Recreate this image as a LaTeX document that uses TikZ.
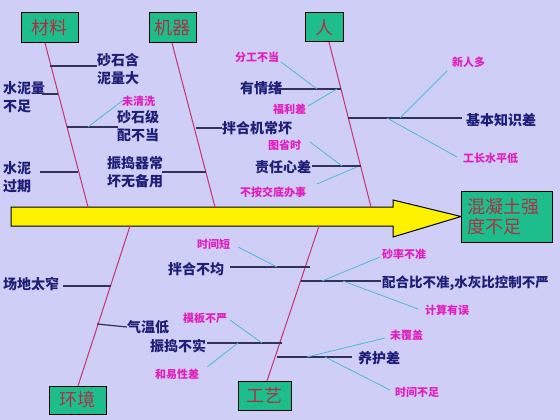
\documentclass[tikz,border=0pt]{standalone}
\usepackage{fontspec}
\newfontfamily\cjk{Noto Sans CJK SC}
\definecolor{bg}{RGB}{206,206,246}
\definecolor{boxgreen}{RGB}{30,190,140}
\definecolor{boxred}{RGB}{170,50,70}
\definecolor{navy}{RGB}{30,30,120}
\definecolor{mag}{RGB}{225,30,190}
\definecolor{spinecol}{RGB}{200,50,110}
\definecolor{bonecol}{RGB}{50,50,90}
\definecolor{twigcol}{RGB}{80,185,215}
\tikzset{
  cat/.style={draw=black, line width=1pt, fill=boxgreen, text=boxred, inner sep=0pt,
    font=\cjk\fontsize{18}{20}\selectfont},
  lbl/.style={text=navy, inner sep=0pt, anchor=west, align=left,
    font=\cjk\bfseries\fontsize{14}{18}\selectfont},
  sub/.style={text=mag, inner sep=0pt, anchor=west,
    font=\cjk\bfseries\fontsize{11}{12}\selectfont},
  spine/.style={draw=spinecol, line width=1pt},
  bone/.style={draw=bonecol, line width=1.2pt},
  twig/.style={draw=twigcol, line width=0.8pt}
}
\begin{document}
\begin{tikzpicture}[x=1pt,y=-1pt]
\useasboundingbox[fill=bg] (0,0) rectangle (560,420);
% category boxes
\node[cat, minimum width=57pt, minimum height=30pt] (mat) at (49.5,28) {材料};
\node[cat, minimum width=47pt, minimum height=30pt] (mach) at (172.5,28) {机器};
\node[cat, minimum width=38pt, minimum height=29pt] (man) at (324,27.5) {人};
\node[cat, minimum width=57pt, minimum height=28pt] (env) at (77.5,400) {环境};
\node[cat, minimum width=53pt, minimum height=29pt] (proc) at (264.5,395.5) {工艺};
% main arrow
\draw[fill=yellow, line width=1pt] (11,207) -- (393,207) -- (393,200) -- (461,216.5)
  -- (393,237) -- (393,226) -- (11,226) -- cycle;
\node[cat, minimum width=91pt, minimum height=51pt, text width=78pt, align=left]
  (head) at (506.5,216.5) {混凝土强\\度不足};
% spines
\coordinate (matE) at (88,207);
\coordinate (machE) at (215,207);
\coordinate (manE) at (371,207);
\coordinate (envE) at (130,226);
\coordinate (procE) at (319,226);
\draw[spine] (45,43) -- (matE);
\draw[spine] (172,43) -- (machE);
\draw[spine] (329,42) -- (manE);
\draw[spine] (78,386) -- (envE);
\draw[spine] (267,381) -- (procE);
% ---- 材料
\node[lbl] (m1) at (97,69) {砂石含\\泥量大};
\draw[bone] (50,66) -- (97,66);
\node[lbl] (m2) at (3,97) {水泥量\\不足};
\draw[bone] (42,94) -- (58,94);
\node[lbl] (m3) at (117,126) {砂石级\\配不当};
\draw[bone] (67,127) -- (118,127);
\node[sub] (m3a) at (122,101) {未清洗};
\draw[twig] (88,127) -- (m3a.west);
\node[lbl] (m4) at (3,177) {水泥\\过期};
\draw[bone] (40,172) -- (78,172);
% ---- 机器
\node[lbl] (k1) at (222,128) {拌合机常坏};
\draw[bone] (196,128) -- (k1.west);
\node[lbl] (k2) at (107,172) {振捣器常\\坏无备用};
\draw[bone] (162,172) -- (206,172);
% ---- 人
\node[lbl] (r1) at (240,88) {有情绪};
\draw[bone] (277,89) -- (341,89);
\node[sub] (r1a) at (235,57) {分工不当};
\node[sub] (r1b) at (273,109) {福利差};
\draw[twig] (281,62) -- (317,89);
\draw[twig] (308,106) -- (337,89);
\node[lbl] (r2) at (466,120) {基本知识差};
\draw[bone] (348,118) -- (462,118);
\node[sub] (r2a) at (452,62) {新人多};
\node[sub] (r2b) at (463,158) {工长水平低};
\draw[twig] (400,118) -- (447,71);
\draw[twig] (387,118) -- (457,157);
\node[lbl] (r3) at (255,167) {责任心差};
\draw[bone] (312,166) -- (361,166);
\node[sub] (r3a) at (268,145) {图省时};
\node[sub] (r3b) at (240,192) {不按交底办事};
\draw[twig] (310,142) -- (342,166);
\draw[twig] (317,184) -- (357,167);
% ---- 环境
\node[lbl] (h1) at (3,284) {场地太窄};
\draw[bone] (63,286) -- (111,286);
\node[lbl] (h2) at (127,327) {气温低};
\draw[bone] (97,324) -- (h2.west);
% ---- 工艺
\node[lbl] (g1) at (168,269) {拌合不均};
\draw[bone] (230,267) -- (310,267);
\node[sub] (g1a) at (197,244) {时间短};
\draw[twig] (238,247) -- (277,267);
\node[lbl, font=\cjk\bfseries\fontsize{13.5}{16}\selectfont] (g2) at (382,283) {配合比不准,水灰比控制不严};
\draw[bone] (301,281) -- (381,281);
\node[sub] (g2a) at (382,254) {砂率不准};
\node[sub] (g2b) at (425,310) {计算有误};
\draw[twig] (322,281) -- (380,257);
\draw[twig] (343,281) -- (418,309);
\node[lbl] (g3) at (150,346) {振捣不实};
\draw[bone] (207,343) -- (282,343);
\node[sub] (g3a) at (183,318) {模板不严};
\node[sub] (g3b) at (155,374) {和易性差};
\draw[twig] (230,320) -- (262,343);
\draw[twig] (207,367) -- (238,343);
\node[lbl] (g4) at (358,358) {养护差};
\draw[bone] (277,357) -- (352,357);
\node[sub] (g4a) at (390,335) {未覆盖};
\node[sub] (g4b) at (395,392) {时间不足};
\draw[twig] (307,357) -- (385,338);
\draw[twig] (325,357) -- (390,390);
\end{tikzpicture}
\end{document}
